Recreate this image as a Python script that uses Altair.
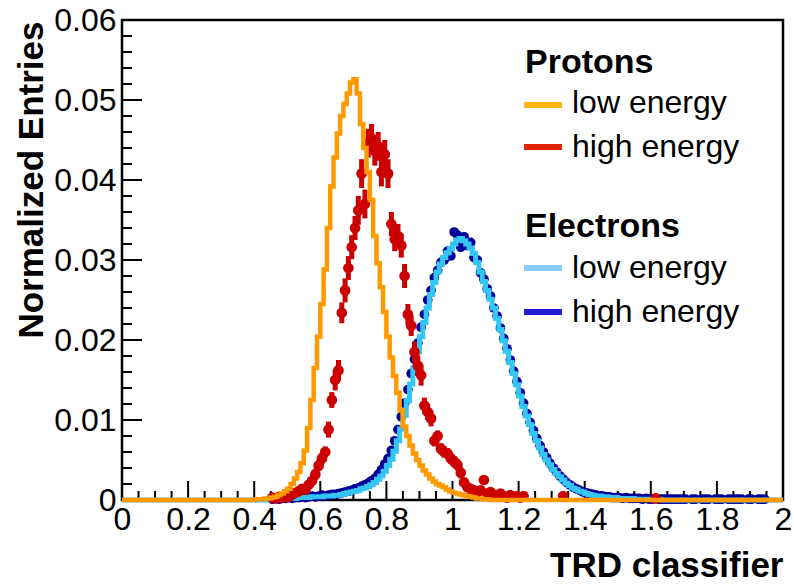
import altair as alt
import pandas as pd

BIN = 0.01
N_BINS = 200
FONT = "Liberation Sans"

# Protons, low energy (orange histogram), bin lower edges start at 0.40
p_low_start = 0.40
p_low = [
    0.0001, 0.0001, 0.0001, 0.0002, 0.0002, 0.0003, 0.0004, 0.0006, 0.0008, 0.0011,
    0.0014, 0.0020, 0.0027, 0.0035, 0.0046, 0.0062, 0.0090, 0.0125, 0.0165, 0.0204,
    0.0245, 0.0288, 0.0340, 0.0392, 0.0428, 0.0458, 0.0480, 0.0495, 0.0508, 0.0522,
    0.0526, 0.0508, 0.0470, 0.0440, 0.0410, 0.0375, 0.0330, 0.0296, 0.0266, 0.0235,
    0.0204, 0.0178, 0.0155, 0.0134, 0.0112, 0.0092, 0.0080, 0.0068, 0.0058, 0.0050,
    0.0043, 0.0037, 0.0032, 0.0027, 0.0023, 0.0020, 0.0018, 0.0016, 0.0013, 0.0011,
    0.0009, 0.0008, 0.0007, 0.0006, 0.0005, 0.0004, 0.0003, 0.0002, 0.0002, 0.0001,
    0.0001,
]

# Protons, high energy (red points with errors), bin lower edges start at 0.45
p_high_start = 0.45
p_high = [
    0.0003, 0.0002, 0.0004, 0.0003, 0.0005, 0.0004, 0.0007, 0.0009, 0.0011, 0.0014,
    0.0013, 0.0019, 0.0024, 0.0032, 0.0043, 0.0052, 0.0060, 0.0088, 0.0125, 0.0150,
    0.0162, 0.0234, 0.0262, 0.0290, 0.0316, 0.0340, 0.0362, 0.0408, 0.0370, 0.0446,
    0.0452, 0.0436, 0.0442, 0.0410, 0.0432, 0.0408, 0.0345, 0.0326, 0.0330, 0.0318,
    0.0280, 0.0232, 0.0218, 0.0185, 0.0168, 0.0156, 0.0118, 0.0110, 0.0102, 0.0074,
    0.0080, 0.0064, 0.0060, 0.0058, 0.0052, 0.0048, 0.0044, 0.0034, 0.0022, 0.0016,
    0.0014, 0.0012, 0.0010, 0.0012, 0.0025, 0.0008, 0.0010, 0.0006, 0.0004, 0.0008,
    0.0005, 0.0003, 0.0006, 0.0004, 0.0005, 0.0003, 0.0005,
]
p_high_err = [
    0.0002, 0.0002, 0.0002, 0.0002, 0.0002, 0.0002, 0.0002, 0.0002, 0.0004, 0.0004,
    0.0004, 0.0004, 0.0004, 0.0007, 0.0007, 0.0007, 0.0007, 0.0010, 0.0010, 0.0013,
    0.0013, 0.0013, 0.0015, 0.0015, 0.0015, 0.0015, 0.0018, 0.0018, 0.0018, 0.0018,
    0.0018, 0.0018, 0.0018, 0.0018, 0.0018, 0.0018, 0.0015, 0.0015, 0.0015, 0.0015,
    0.0015, 0.0013, 0.0013, 0.0013, 0.0013, 0.0013, 0.0010, 0.0010, 0.0010, 0.0007,
    0.0007, 0.0007, 0.0007, 0.0007, 0.0007, 0.0007, 0.0007, 0.0007, 0.0004, 0.0004,
    0.0004, 0.0004, 0.0004, 0.0004, 0.0004, 0.0002, 0.0002, 0.0002, 0.0002, 0.0002,
    0.0002, 0.0002, 0.0002, 0.0002, 0.0002, 0.0002, 0.0002,
]
# isolated high-energy proton bins (lower edges)
p_high_extra_edge = [1.33, 1.61]
p_high_extra = [0.0005, 0.0002]
p_high_extra_err = [0.0002, 0.0001]

# Electrons, low energy (light blue histogram), lower edges start at 0.45
e_low_start = 0.45
e_low = [
    0.0001, 0.0001, 0.0001, 0.0001, 0.0002, 0.0002, 0.0002, 0.0002, 0.0003, 0.0003,
    0.0003, 0.0003, 0.0004, 0.0004, 0.0004, 0.0004, 0.0005, 0.0005, 0.0005, 0.0006,
    0.0006, 0.0007, 0.0008, 0.0009, 0.0010, 0.0011, 0.0012, 0.0014, 0.0015, 0.0017,
    0.0019, 0.0022, 0.0026, 0.0030, 0.0036, 0.0043, 0.0051, 0.0061, 0.0074, 0.0089,
    0.0106, 0.0124, 0.0145, 0.0165, 0.0185, 0.0204, 0.0222, 0.0240, 0.0257, 0.0272,
    0.0285, 0.0295, 0.0303, 0.0309, 0.0314, 0.0320, 0.0325, 0.0327, 0.0324, 0.0320,
    0.0315, 0.0308, 0.0297, 0.0285, 0.0273, 0.0262, 0.0251, 0.0240, 0.0227, 0.0213,
    0.0199, 0.0186, 0.0172, 0.0158, 0.0144, 0.0130, 0.0117, 0.0105, 0.0094, 0.0083,
    0.0074, 0.0065, 0.0057, 0.0050, 0.0044, 0.0038, 0.0033, 0.0029, 0.0025, 0.0021,
    0.0018, 0.0015, 0.0013, 0.0011, 0.0010, 0.0008, 0.0007, 0.0006, 0.0005, 0.0005,
    0.0004, 0.0004, 0.0003, 0.0003, 0.0003, 0.0002, 0.0002, 0.0002, 0.0002, 0.0002,
    0.0001, 0.0001, 0.0001, 0.0001, 0.0001, 0.0001, 0.0001, 0.0001,
]

# Electrons, high energy (dark blue points), lower edges start at 0.45
e_high_start = 0.45
e_high = [
    0.0001, 0.0002, 0.0001, 0.0002, 0.0002, 0.0003, 0.0002, 0.0003, 0.0003, 0.0004,
    0.0003, 0.0004, 0.0005, 0.0004, 0.0005, 0.0006, 0.0005, 0.0006, 0.0007, 0.0007,
    0.0008, 0.0009, 0.0010, 0.0011, 0.0012, 0.0014, 0.0015, 0.0017, 0.0019, 0.0021,
    0.0024, 0.0027, 0.0032, 0.0038, 0.0045, 0.0052, 0.0062, 0.0074, 0.0088, 0.0104,
    0.0121, 0.0138, 0.0158, 0.0176, 0.0196, 0.0216, 0.0232, 0.0250, 0.0262, 0.0278,
    0.0287, 0.0297, 0.0300, 0.0311, 0.0305, 0.0335, 0.0331, 0.0316, 0.0329, 0.0318,
    0.0322, 0.0303, 0.0300, 0.0284, 0.0276, 0.0264, 0.0255, 0.0240, 0.0230, 0.0215,
    0.0202, 0.0189, 0.0175, 0.0161, 0.0148, 0.0134, 0.0121, 0.0108, 0.0097, 0.0087,
    0.0077, 0.0068, 0.0060, 0.0053, 0.0046, 0.0040, 0.0035, 0.0030, 0.0026, 0.0022,
    0.0019, 0.0016, 0.0014, 0.0012, 0.0010, 0.0009, 0.0008, 0.0007, 0.0006, 0.0005,
    0.0005, 0.0004, 0.0004, 0.0003, 0.0003, 0.0003, 0.0002, 0.0003, 0.0002, 0.0002,
    0.0002, 0.0002, 0.0001, 0.0002, 0.0001, 0.0001, 0.0002, 0.0001, 0.0001, 0.0001,
    0.0001, 0.0001, 0.0001, 0.0001, 0.0001, 0.0001, 0.0, 0.0001, 0.0001, 0.0,
    0.0001, 0.0001, 0.0001, 0.0, 0.0001, 0.0001, 0.0001, 0.0, 0.0001, 0.0001,
    0.0001, 0.0001, 0.0001, 0.0, 0.0001, 0.0001, 0.0, 0.0001, 0.0001, 0.0001,
]

x_major = [0, 0.2, 0.4, 0.6, 0.8, 1.0, 1.2, 1.4, 1.6, 1.8, 2.0]
x_minor = [0.05, 0.1, 0.15, 0.25, 0.3, 0.35, 0.45, 0.5, 0.55, 0.65, 0.7, 0.75,
           0.85, 0.9, 0.95, 1.05, 1.1, 1.15, 1.25, 1.3, 1.35, 1.45, 1.5, 1.55,
           1.65, 1.7, 1.75, 1.85, 1.9, 1.95]
y_major = [0, 0.01, 0.02, 0.03, 0.04, 0.05, 0.06]
y_minor = [0.002, 0.004, 0.006, 0.008, 0.012, 0.014, 0.016, 0.018,
           0.022, 0.024, 0.026, 0.028, 0.032, 0.034, 0.036, 0.038,
           0.042, 0.044, 0.046, 0.048, 0.052, 0.054, 0.056, 0.058]


def step_frame(start, vals):
    i0 = int(round(start / BIN))
    v = [0.0] * N_BINS
    for k, val in enumerate(vals):
        v[i0 + k] = val
    edges = [round(i * BIN, 4) for i in range(N_BINS)] + [2.0]
    return pd.DataFrame({"x": edges, "y": v + [v[-1]]})


def point_frame(start, vals, errs=None):
    rows = []
    for k, val in enumerate(vals):
        if val > 0:
            e = errs[k] if errs is not None else 0.0
            c = start + (k + 0.5) * BIN
            rows.append({"x": c, "y": val, "lo": val - e, "hi": val + e})
    return pd.DataFrame(rows)


df_p_low = step_frame(p_low_start, p_low)
df_e_low = step_frame(e_low_start, e_low)
df_p_high = pd.concat([
    point_frame(p_high_start, p_high, p_high_err),
    pd.DataFrame({
        "x": [e + BIN / 2 for e in p_high_extra_edge],
        "y": p_high_extra,
        "lo": [a - b for a, b in zip(p_high_extra, p_high_extra_err)],
        "hi": [a + b for a, b in zip(p_high_extra, p_high_extra_err)],
    }),
], ignore_index=True)
df_e_high = point_frame(e_high_start, e_high)

xs = alt.Scale(domain=[0, 2], nice=False, zero=False)
ys = alt.Scale(domain=[0, 0.06], nice=False, zero=False)

W, H = 661, 480

x_axis = alt.Axis(
    values=x_major, format="~g", ticks=False, domain=False, grid=False,
    labelFont=FONT, labelFontSize=32, labelColor="black", labelPadding=4,
    labelFlush=False, labelOverlap=False, labelBaseline="top",
    title="TRD classifier", titleFont=FONT, titleFontSize=35,
    titleFontWeight="bold", titleColor="black", titleX=W, titleY=76,
    titleAlign="right", titleBaseline="alphabetic", titleAngle=0,
)
y_axis = alt.Axis(
    values=y_major, format="~g", ticks=False, domain=False, grid=False,
    labelFont=FONT, labelFontSize=32, labelColor="black", labelPadding=6,
    labelFlush=False, labelOverlap=False,
    title="Normalized Entries", titleFont=FONT, titleFontSize=35,
    titleFontWeight="bold", titleColor="black", titleX=-80, titleY=1,
    titleAlign="right", titleBaseline="alphabetic", titleAngle=270,
)


def X(field):
    return alt.X(field, scale=xs, axis=x_axis)


def Y(field):
    return alt.Y(field, scale=ys, axis=y_axis)


tick_color = "black"
xmaj = alt.Chart(pd.DataFrame({"v": x_major})).mark_rule(color=tick_color, strokeWidth=2).encode(
    x=X("v:Q"), y=alt.value(H), y2=alt.value(H - 19))
xmin = alt.Chart(pd.DataFrame({"v": x_minor})).mark_rule(color=tick_color, strokeWidth=2).encode(
    x=X("v:Q"), y=alt.value(H), y2=alt.value(H - 9))
ymaj = alt.Chart(pd.DataFrame({"v": y_major})).mark_rule(color=tick_color, strokeWidth=2).encode(
    y=Y("v:Q"), x=alt.value(0), x2=alt.value(20))
ymin = alt.Chart(pd.DataFrame({"v": y_minor})).mark_rule(color=tick_color, strokeWidth=2).encode(
    y=Y("v:Q"), x=alt.value(0), x2=alt.value(10))

e_high_pts = alt.Chart(df_e_high).mark_circle(color="#000099", opacity=1, size=95).encode(
    x=X("x:Q"), y=Y("y:Q"))

e_low_line = alt.Chart(df_e_low).mark_line(color="#33c6f4", strokeWidth=5, interpolate="step-after").encode(
    x=X("x:Q"), y=Y("y:Q"))

p_high_err_bars = alt.Chart(df_p_high).mark_rule(color="#cc0000", strokeWidth=5).encode(
    x=X("x:Q"), y=Y("lo:Q"), y2="hi:Q")
p_high_pts = alt.Chart(df_p_high).mark_circle(color="#cc0000", opacity=1, size=115).encode(
    x=X("x:Q"), y=Y("y:Q"))

p_low_line = alt.Chart(df_p_low).mark_line(color="#ff9900", strokeWidth=4.5, interpolate="step-after").encode(
    x=X("x:Q"), y=Y("y:Q"))

one = pd.DataFrame({"k": [0]})


def legend_text(label, x, y, bold=False, size=32):
    return alt.Chart(one).mark_text(
        text=label, font=FONT, fontSize=size, fontWeight="bold" if bold else "normal",
        align="left", baseline="alphabetic", color="black",
    ).encode(x=alt.value(x), y=alt.value(y))


def legend_line(color, y):
    return alt.Chart(one).mark_rule(color=color, strokeWidth=6).encode(
        x=alt.value(402), x2=alt.value(440), y=alt.value(y))


legend = [
    legend_text("Protons", 403, 53, bold=True, size=34),
    legend_line("#ffb414", 85), legend_text("low energy", 450, 93),
    legend_line("#dd2200", 127), legend_text("high energy", 450, 137),
    legend_text("Electrons", 403, 217, bold=True, size=34),
    legend_line("#88ccff", 248), legend_text("low energy", 450, 258),
    legend_line("#2020d0", 292), legend_text("high energy", 450, 302),
]

chart = alt.layer(
    xmaj, xmin, ymaj, ymin,
    e_high_pts, e_low_line, p_high_err_bars, p_high_pts, p_low_line,
    *legend,
).properties(
    width=W, height=H,
    autosize=alt.AutoSizeParams(type="none"),
    padding={"left": 122, "top": 20, "right": 11, "bottom": 85},
    background="white",
).configure_view(stroke="black", strokeWidth=2.5)

chart.save("out.html", embed_options={"renderer": "svg", "actions": False})
